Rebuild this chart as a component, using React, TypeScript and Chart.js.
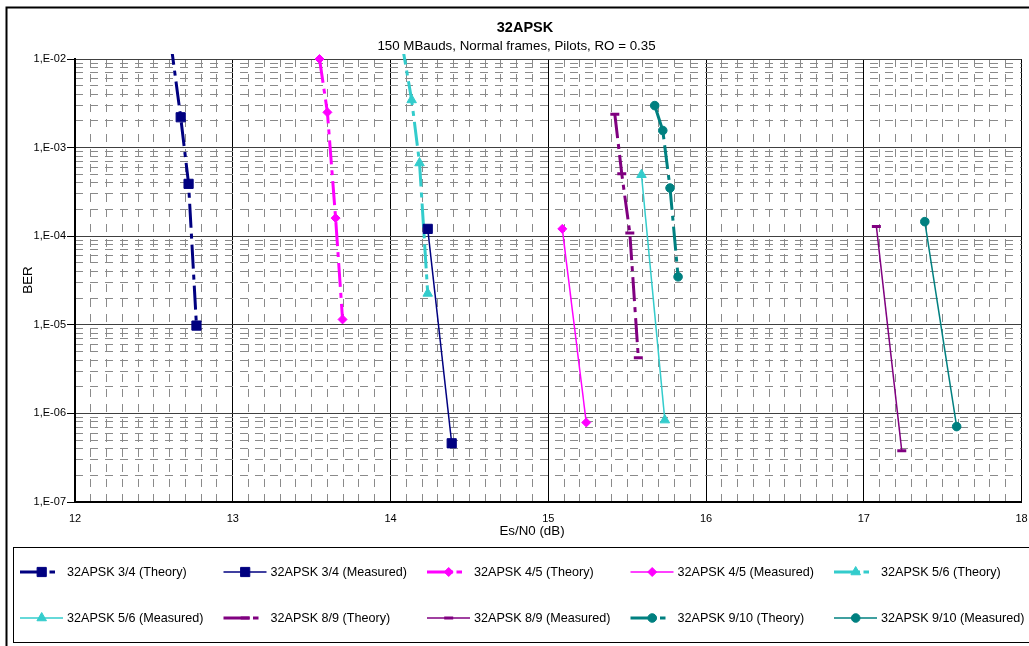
import React, { useEffect, useRef } from 'react';
import { Chart, registerables } from 'chart.js';

Chart.register(...registerables);

// ---------- data ----------
const x34T = [12.606, 12.67, 12.72, 12.77];
const y34T = [1.6e-2, 2.2e-3, 3.9e-4, 9.8e-6];
const x34M = [14.236, 14.388];
const y34M = [1.21e-4, 4.6e-7];

const x45T = [13.55, 13.6, 13.652, 13.696];
const y45T = [1.0e-2, 2.5e-3, 1.6e-4, 1.15e-5];
const x45M = [15.089, 15.241];
const y45M = [1.21e-4, 7.9e-7];

const x56T = [14.07, 14.134, 14.184, 14.236];
const y56T = [1.6e-2, 3.45e-3, 6.7e-4, 2.26e-5];
const x56M = [15.591, 15.739];
const y56M = [4.94e-4, 8.4e-7];

const x89T = [15.422, 15.466, 15.517, 15.571];
const y89T = [2.38e-3, 5.07e-4, 1.09e-4, 4.26e-6];
const x89M = [17.08, 17.241];
const y89M = [1.29e-4, 3.78e-7];

const x910T = [15.675, 15.726, 15.772, 15.823];
const y910T = [2.98e-3, 1.56e-3, 3.5e-4, 3.48e-5];
const x910M = [17.387, 17.589];
const y910M = [1.46e-4, 7.1e-7];

const X_MAJOR_TICKS = [12, 13, 14, 15, 16, 17, 18];
const Y_MAJOR_TICKS = [1e-7, 1e-6, 1e-5, 1e-4, 1e-3, 1e-2];
const X_MINOR_TICKS: number[] = [];
for (let i = 0; i <= 60; i++) X_MINOR_TICKS.push(Math.round((12 + i / 10) * 10) / 10);
const Y_MINOR_TICKS: number[] = [];
for (let e = -7; e <= -3; e++) for (let k = 2; k <= 9; k++) Y_MINOR_TICKS.push(k * Math.pow(10, e));

const TITLE = '32APSK';
const SUBTITLE = '150 MBauds, Normal frames, Pilots, RO = 0.35';
const X_TITLE = 'Es/N0 (dB)';
const Y_TITLE = 'BER';

type Series = { label: string; xs: number[]; ys: number[]; color: string; style: string; theory: boolean };

const SERIES: Series[] = [
  { label: '32APSK 3/4 (Theory)', xs: x34T, ys: y34T, color: '#000080', style: 'rect', theory: true },
  { label: '32APSK 3/4 (Measured)', xs: x34M, ys: y34M, color: '#000080', style: 'rect', theory: false },
  { label: '32APSK 4/5 (Theory)', xs: x45T, ys: y45T, color: '#FF00FF', style: 'rectRot', theory: true },
  { label: '32APSK 4/5 (Measured)', xs: x45M, ys: y45M, color: '#FF00FF', style: 'rectRot', theory: false },
  { label: '32APSK 5/6 (Theory)', xs: x56T, ys: y56T, color: '#33CCCC', style: 'triangle', theory: true },
  { label: '32APSK 5/6 (Measured)', xs: x56M, ys: y56M, color: '#33CCCC', style: 'triangle', theory: false },
  { label: '32APSK 8/9 (Theory)', xs: x89T, ys: y89T, color: '#800080', style: 'line', theory: true },
  { label: '32APSK 8/9 (Measured)', xs: x89M, ys: y89M, color: '#800080', style: 'line', theory: false },
  { label: '32APSK 9/10 (Theory)', xs: x910T, ys: y910T, color: '#008080', style: 'circle', theory: true },
  { label: '32APSK 9/10 (Measured)', xs: x910M, ys: y910M, color: '#008080', style: 'circle', theory: false },
];

const FONT = "'Liberation Sans', Arial, sans-serif";
const RADIUS: Record<string, number> = { rect: 6.5, rectRot: 4.5, triangle: 5.5, line: 4.5, circle: 4.3 };
const THEORY_DASH = [24, 6, 5, 6];

function drawMarker(ctx: CanvasRenderingContext2D, style: string, x: number, y: number, color: string) {
  const r = RADIUS[style];
  ctx.save();
  ctx.setLineDash([]);
  ctx.fillStyle = color;
  ctx.strokeStyle = color;
  ctx.lineWidth = style === 'line' ? 3 : 1;
  ctx.beginPath();
  if (style === 'rect') {
    const s = r * Math.SQRT1_2;
    ctx.rect(x - s, y - s, 2 * s, 2 * s);
    ctx.fill();
    ctx.stroke();
  } else if (style === 'rectRot') {
    ctx.moveTo(x, y - r);
    ctx.lineTo(x + r, y);
    ctx.lineTo(x, y + r);
    ctx.lineTo(x - r, y);
    ctx.closePath();
    ctx.fill();
    ctx.stroke();
  } else if (style === 'triangle') {
    let a = 0;
    ctx.moveTo(x + Math.sin(a) * r, y - Math.cos(a) * r);
    a += (2 * Math.PI) / 3;
    ctx.lineTo(x + Math.sin(a) * r, y - Math.cos(a) * r);
    a += (2 * Math.PI) / 3;
    ctx.lineTo(x + Math.sin(a) * r, y - Math.cos(a) * r);
    ctx.closePath();
    ctx.fill();
    ctx.stroke();
  } else if (style === 'circle') {
    ctx.arc(x, y, r, 0, Math.PI * 2);
    ctx.fill();
    ctx.stroke();
  } else {
    ctx.moveTo(x - r, y);
    ctx.lineTo(x + r, y);
    ctx.stroke();
  }
  ctx.restore();
}

const decorPlugin = {
  id: 'decor',
  afterDraw(chart: any) {
    const ctx: CanvasRenderingContext2D = chart.ctx;
    ctx.save();
    // outer chart border
    ctx.strokeStyle = '#000';
    ctx.lineWidth = 2;
    ctx.setLineDash([]);
    ctx.strokeRect(6.5, 7.5, 1100, 700);

    // titles
    ctx.fillStyle = '#000';
    ctx.textAlign = 'center';
    ctx.textBaseline = 'alphabetic';
    ctx.font = `bold 14.5px ${FONT}`;
    ctx.fillText(TITLE, 525, 31.5);
    ctx.font = `13.33px ${FONT}`;
    ctx.fillText(SUBTITLE, 516.5, 50);
    ctx.fillText(X_TITLE, 532, 535);
    ctx.save();
    ctx.translate(32, 280);
    ctx.rotate(-Math.PI / 2);
    ctx.textBaseline = 'alphabetic';
    ctx.fillText(Y_TITLE, 0, 0);
    ctx.restore();

    // legend box
    ctx.strokeStyle = '#000';
    ctx.lineWidth = 1;
    ctx.strokeRect(13.5, 547.5, 1100, 95);

    const cols = [20, 223.5, 427, 630.5, 834];
    const rows = [572, 618];
    ctx.font = `12.6px ${FONT}`;
    ctx.textAlign = 'left';
    ctx.textBaseline = 'middle';
    SERIES.forEach((s, i) => {
      const x0 = cols[i % 5];
      const y = rows[Math.floor(i / 5)];
      ctx.save();
      ctx.strokeStyle = s.color;
      ctx.setLineDash([]);
      ctx.lineCap = 'butt';
      ctx.beginPath();
      if (s.theory) {
        ctx.lineWidth = 3;
        ctx.moveTo(x0, y);
        ctx.lineTo(x0 + 26, y);
        ctx.moveTo(x0 + 29.5, y);
        ctx.lineTo(x0 + 35, y);
      } else {
        ctx.lineWidth = 1.5;
        ctx.moveTo(x0, y);
        ctx.lineTo(x0 + 43, y);
      }
      ctx.stroke();
      ctx.restore();
      drawMarker(ctx, s.style, x0 + 21.7, y, s.color);
      ctx.fillStyle = '#000';
      ctx.fillText(s.label, x0 + 47, y + 0.5);
    });
    ctx.restore();
  },
};

function fmtExp(v: number) {
  const e = Math.round(Math.log10(v));
  const a = Math.abs(e);
  return '1,E' + (e < 0 ? '-' : '+') + (a < 10 ? '0' + a : String(a));
}

export default function App() {
  const ref = useRef<HTMLCanvasElement>(null);

  useEffect(() => {
    document.body.style.margin = '0';
    const canvas = ref.current;
    if (!canvas) return;
    Chart.defaults.font.family = FONT;
    Chart.defaults.color = '#000';

    const datasets = SERIES.map((s) => ({
      label: s.label,
      data: s.xs.map((x, i) => ({ x, y: s.ys[i] })),
      borderColor: s.color,
      backgroundColor: s.color,
      borderWidth: s.theory ? 3 : 1.5,
      borderDash: s.theory ? THEORY_DASH : [],
      borderCapStyle: 'butt',
      pointStyle: s.style,
      pointRadius: RADIUS[s.style],
      pointBorderWidth: s.style === 'line' ? 3 : 1,
      pointBackgroundColor: s.color,
      pointBorderColor: s.color,
      pointHoverRadius: RADIUS[s.style],
      fill: false,
      tension: 0,
      clip: 5,
      xAxisID: 'x',
      yAxisID: 'y',
    }));

    const noSidePad = (s: any) => {
      s.paddingLeft = 0;
      s.paddingRight = 0;
    };

    const chart = new Chart(canvas, {
      type: 'line',
      data: { datasets: datasets as any },
      options: {
        responsive: false,
        animation: false,
        devicePixelRatio: 1,
        events: [],
        layout: { padding: { left: 0, top: 59, right: 6, bottom: 104 } },
        plugins: { legend: { display: false }, tooltip: { enabled: false }, title: { display: false } },
        scales: {
          xMinor: {
            type: 'linear',
            position: 'bottom',
            min: 12,
            max: 18,
            afterBuildTicks: (s: any) => {
              s.ticks = X_MINOR_TICKS.map((v) => ({ value: v }));
            },
            afterFit: (s: any) => {
              s.height = 0;
              noSidePad(s);
            },
            ticks: { display: false, autoSkip: false },
            grid: { color: '#8a8a8a', lineWidth: 1, drawTicks: false, z: -1 },
            border: { display: false, dash: [8, 7] },
          },
          x: {
            type: 'linear',
            position: 'bottom',
            min: 12,
            max: 18,
            afterBuildTicks: (s: any) => {
              s.ticks = X_MAJOR_TICKS.map((v) => ({ value: v }));
            },
            afterFit: (s: any) => {
              s.height = 40;
              noSidePad(s);
            },
            ticks: {
              autoSkip: false,
              maxRotation: 0,
              padding: 10,
              color: '#000',
              font: { size: 11 },
              callback: (v: any) => String(v),
            },
            grid: { color: '#000', lineWidth: 1, drawTicks: false },
            border: { display: true, color: '#000', width: 2 },
          },
          yMinor: {
            type: 'logarithmic',
            position: 'left',
            min: 1e-7,
            max: 1e-2,
            afterBuildTicks: (s: any) => {
              s.ticks = Y_MINOR_TICKS.map((v) => ({ value: v }));
            },
            afterFit: (s: any) => {
              s.width = 0;
            },
            ticks: { display: false, autoSkip: false },
            grid: { color: '#8a8a8a', lineWidth: 1, drawTicks: false, z: -1 },
            border: { display: false, dash: [8, 7] },
          },
          y: {
            type: 'logarithmic',
            position: 'left',
            min: 1e-7,
            max: 1e-2,
            afterBuildTicks: (s: any) => {
              s.ticks = Y_MAJOR_TICKS.map((v) => ({ value: v }));
            },
            afterFit: (s: any) => {
              s.width = 75;
            },
            ticks: {
              autoSkip: false,
              padding: 1,
              color: '#000',
              font: { size: 11 },
              callback: (v: any) => fmtExp(Number(v)),
            },
            grid: { color: '#404040', lineWidth: 1, drawTicks: true, tickLength: 8, tickColor: '#000', tickWidth: 1 },
            border: { display: true, color: '#000', width: 2 },
          },
        },
      } as any,
      plugins: [decorPlugin],
    });

    return () => chart.destroy();
  }, []);

  return (
    <canvas
      ref={ref}
      width={1029}
      height={646}
      style={{ display: 'block', width: '1029px', height: '646px' }}
    />
  );
}
